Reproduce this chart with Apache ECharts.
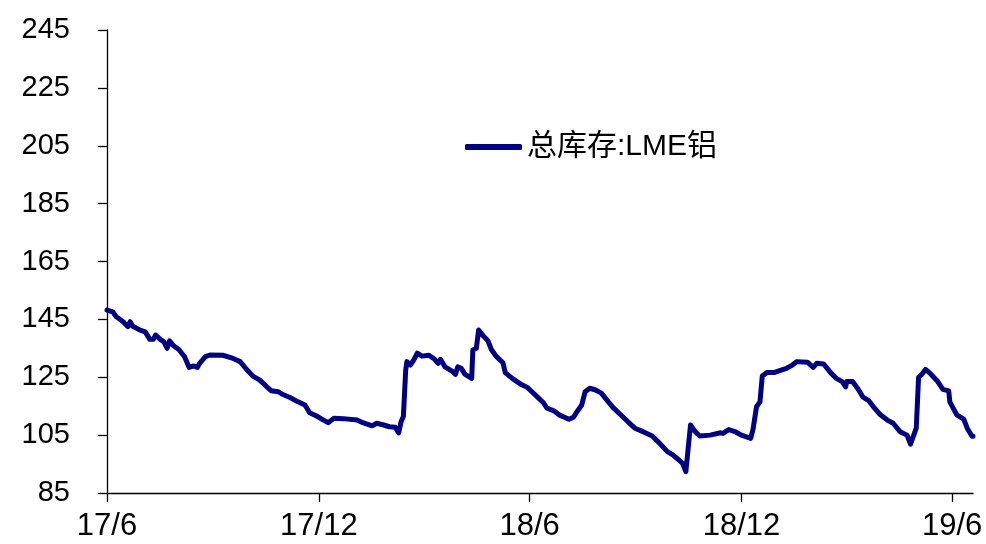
<!DOCTYPE html>
<html>
<head>
<meta charset="utf-8">
<script src="https://cdn.jsdelivr.net/npm/echarts@6/dist/echarts.min.js"></script>
<style>
html,body{margin:0;padding:0;background:#fff;}
#chart{width:986px;height:544px;}
</style>
</head>
<body>
<div id="chart"></div>
<script>
const seriesName = '总库存:LME铝';
const dates = [
'2017-06-01','2017-06-06','2017-06-09','2017-06-15','2017-06-19','2017-06-21','2017-06-23','2017-06-29',
'2017-07-04','2017-07-08','2017-07-11','2017-07-13','2017-07-17','2017-07-20','2017-07-23','2017-07-25','2017-07-28',
'2017-08-02','2017-08-07','2017-08-11','2017-08-15','2017-08-18','2017-08-20','2017-08-25','2017-08-29',
'2017-09-09','2017-09-18','2017-09-24','2017-09-30',
'2017-10-05','2017-10-11','2017-10-17','2017-10-21','2017-10-27','2017-10-30',
'2017-11-06','2017-11-13','2017-11-19','2017-11-23','2017-11-29',
'2017-12-05','2017-12-09','2017-12-14','2017-12-22',
'2018-01-03','2018-01-08','2018-01-16','2018-01-20','2018-01-26','2018-01-31',
'2018-02-05','2018-02-08','2018-02-10','2018-02-12','2018-02-14','2018-02-15','2018-02-18','2018-02-21','2018-02-24','2018-02-28',
'2018-03-06','2018-03-11','2018-03-14','2018-03-16','2018-03-20','2018-03-26','2018-03-29','2018-03-31',
'2018-04-03','2018-04-06','2018-04-12','2018-04-13','2018-04-16','2018-04-18','2018-04-22','2018-04-26','2018-04-29',
'2018-05-03','2018-05-09','2018-05-11','2018-05-17','2018-05-24','2018-05-30',
'2018-06-03','2018-06-09','2018-06-13','2018-06-16','2018-06-22','2018-06-27',
'2018-07-05','2018-07-09','2018-07-12','2018-07-16','2018-07-19','2018-07-23','2018-07-28',
'2018-08-02','2018-08-08','2018-08-12','2018-08-18','2018-08-25','2018-08-31',
'2018-09-07','2018-09-15','2018-09-20','2018-09-28',
'2018-10-03','2018-10-08','2018-10-11','2018-10-14','2018-10-15','2018-10-18','2018-10-22','2018-10-26',
'2018-11-04','2018-11-13','2018-11-15','2018-11-20','2018-11-26',
'2018-12-01','2018-12-09','2018-12-11','2018-12-14','2018-12-17','2018-12-19','2018-12-23','2018-12-29',
'2019-01-03','2019-01-09','2019-01-14','2019-01-18','2019-01-27',
'2019-02-01','2019-02-04','2019-02-10','2019-02-16','2019-02-21','2019-02-26',
'2019-03-01','2019-03-02','2019-03-07','2019-03-12','2019-03-16','2019-03-21','2019-03-25','2019-03-31',
'2019-04-06','2019-04-11','2019-04-17','2019-04-23','2019-04-26',
'2019-05-01','2019-05-03','2019-05-06','2019-05-09','2019-05-13','2019-05-19','2019-05-24','2019-05-29','2019-05-30',
'2019-06-05','2019-06-11','2019-06-14','2019-06-18','2019-06-19'
];
const inventory = [
148.2,147.6,145.9,144.2,142.5,144.2,142.7,141.4,
140.7,138.1,138.1,139.6,138.1,137.3,135.0,137.6,136.1,
134.6,132.1,128.4,128.9,128.4,129.8,132.1,132.7,
132.6,131.5,130.4,127.5,
125.4,124.0,121.7,120.3,120.0,119.2,
118.0,116.5,115.4,112.7,111.6,
110.2,109.3,110.8,110.7,
110.2,109.3,108.2,109.1,108.5,107.9,
107.7,105.8,109.6,111.4,127.5,130.4,129.2,131.0,133.3,132.3,
132.6,131.2,129.8,131.2,128.6,127.1,126.0,128.6,
128.1,126.1,124.6,134.4,135.0,141.3,139.3,137.6,134.6,
132.3,130.0,126.6,124.6,122.7,121.5,
120.0,117.7,116.2,114.3,113.4,111.9,
110.5,111.2,113.1,115.4,120.0,121.2,120.6,
119.5,116.5,114.6,112.3,109.6,107.4,
106.2,104.7,102.7,99.3,
98.1,96.4,95.3,92.4,93.0,108.5,106.2,104.7,
105.0,105.8,105.6,106.9,106.1,
105.0,103.9,107.0,114.8,116.5,125.4,126.6,126.6,
127.3,128.1,129.2,130.4,130.2,
128.4,129.8,129.6,126.6,124.6,123.5,
121.7,123.5,123.5,120.8,118.1,116.9,114.8,112.0,
110.2,109.1,106.2,105.0,101.9,
107.4,125.0,126.1,127.7,126.3,123.8,120.8,120.3,116.5,
112.0,110.5,107.4,104.7,104.6
];
const yTicks = [85,105,125,145,165,185,205,225,245];
const xTickDates = ['2017-06-01','2017-12-01','2018-06-01','2018-12-01','2019-06-01'];
const xTickLabels = ['17/6','17/12','18/6','18/12','19/6'];
const xMin = '2017-06-01';
const xMax = '2019-06-19';

function ts(s){const p=s.split('-').map(Number);return Date.UTC(p[0],p[1]-1,p[2]);}
const xTickTs = xTickDates.map(ts);
const seriesData = dates.map((d,i)=>[ts(d), inventory[i]]);
const latin = "'Liberation Sans', Arial, 'Noto Sans CJK SC', sans-serif";

const chart = echarts.init(document.getElementById('chart'), null, {renderer:'canvas'});
chart.setOption({
  animation:false,
  backgroundColor:'#fff',
  grid:{left:107, right:13, top:30, bottom:51, containLabel:false},
  legend:{
    show:true, left:460, top:127, icon:'roundRect', itemWidth:57, itemHeight:6, itemGap:10,
    textStyle:{fontSize:30, color:'#000', fontFamily:latin},
    data:[seriesName]
  },
  xAxis:{
    type:'value', min:ts(xMin), max:ts(xMax),
    axisLine:{show:true, onZero:false, lineStyle:{color:'#000', width:1.3}},
    axisTick:{show:true, customValues:xTickTs, length:9, inside:false, lineStyle:{color:'#000', width:1.3}},
    axisLabel:{
      show:true, customValues:xTickTs, margin:18, fontSize:31, color:'#000', fontFamily:latin,
      formatter:function(v){
        for(let i=0;i<xTickTs.length;i++){ if(Math.abs(xTickTs[i]-v)<43200000) return xTickLabels[i]; }
        return '';
      }
    },
    splitLine:{show:false}
  },
  yAxis:{
    type:'value', min:85, max:245,
    axisLine:{show:true, onZero:false, lineStyle:{color:'#000', width:1.3}},
    axisTick:{show:true, customValues:yTicks, length:9, inside:false, lineStyle:{color:'#000', width:1.3}},
    axisLabel:{show:true, customValues:yTicks, margin:37, fontSize:29, color:'#000', fontFamily:latin},
    splitLine:{show:false}
  },
  series:[{
    name:seriesName, type:'line', data:seriesData, showSymbol:false, symbol:'none',
    lineStyle:{color:'#000080', width:5, join:'round', cap:'round'},
    itemStyle:{color:'#000080'}
  }]
});
</script>
</body>
</html>
